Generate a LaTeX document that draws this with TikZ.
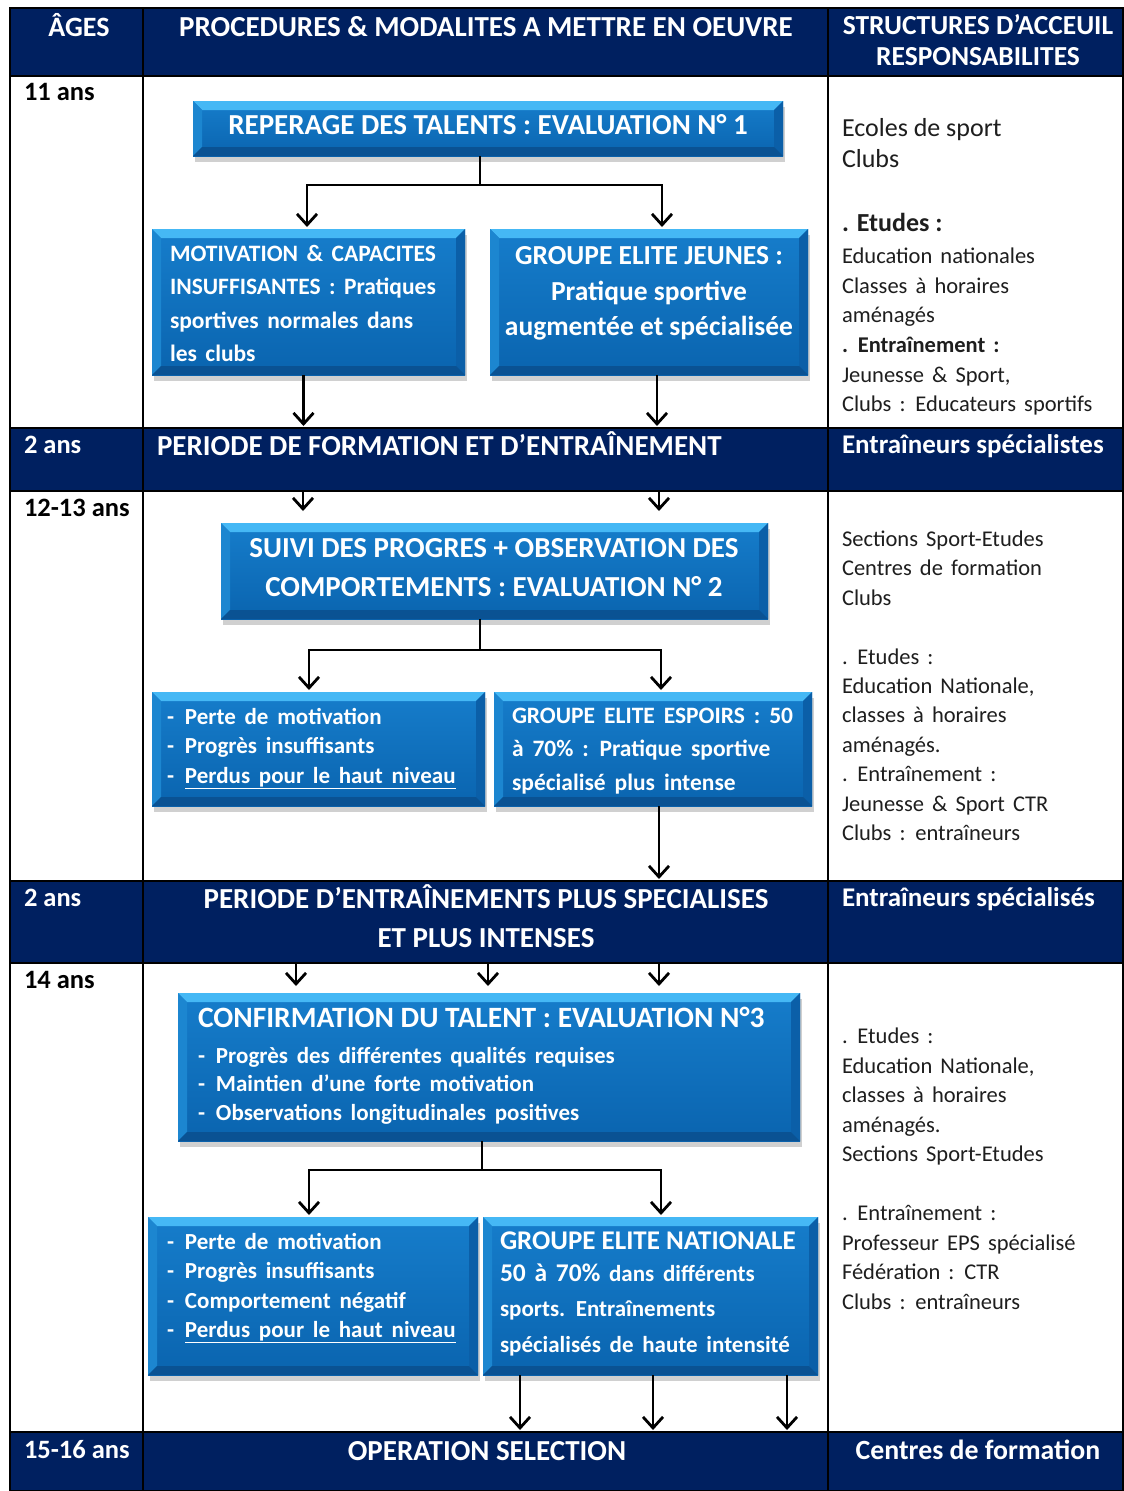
\documentclass[tikz,border=0pt]{standalone}
\usepackage{fontspec}
\setmainfont{Carlito}
\usetikzlibrary{arrows.meta,shadows}
\definecolor{navy}{HTML}{002060}
\definecolor{btop}{HTML}{45B8F5}
\definecolor{bleft}{HTML}{1C86D0}
\definecolor{bright}{HTML}{0B5FA8}
\definecolor{bbot}{HTML}{0A5293}
\definecolor{bctop}{HTML}{167DCB}
\definecolor{bcbot}{HTML}{0A64AF}
\definecolor{rtxt}{HTML}{1E1E1E}
\newcommand{\fz}[2]{\fontsize{#1}{#2}\selectfont}
\newcommand{\wsp}[1]{\spaceskip=#1em plus 0.1em\relax}
\begin{document}
\begin{tikzpicture}[x=1pt,y=-1pt,
  bandc/.style={fill=navy, draw=none, inner sep=0, outer sep=0, anchor=north west, minimum width=1114pt},
  bevel/.style={draw=none, inner sep=0, outer sep=0, anchor=north west,
    drop shadow={shadow xshift=2pt, shadow yshift=-6pt, fill=black!60, opacity=0.3},
    top color=bctop, bottom color=bcbot,
    path picture={
      \fill[btop] (path picture bounding box.north west) -- (path picture bounding box.north east)
        -- ([shift={(-9pt,-9pt)}]path picture bounding box.north east) -- ([shift={(9pt,-9pt)}]path picture bounding box.north west) -- cycle;
      \fill[bleft] (path picture bounding box.north west) -- ([shift={(9pt,-9pt)}]path picture bounding box.north west)
        -- ([shift={(9pt,9pt)}]path picture bounding box.south west) -- (path picture bounding box.south west) -- cycle;
      \fill[bright] (path picture bounding box.north east) -- ([shift={(-9pt,-9pt)}]path picture bounding box.north east)
        -- ([shift={(-9pt,9pt)}]path picture bounding box.south east) -- (path picture bounding box.south east) -- cycle;
      \fill[bbot] (path picture bounding box.south west) -- ([shift={(9pt,9pt)}]path picture bounding box.south west)
        -- ([shift={(-9pt,9pt)}]path picture bounding box.south east) -- (path picture bounding box.south east) -- cycle;
    }},
  wtxt/.style={text=white, inner sep=0, outer sep=0},
  btxt/.style={text=black, inner sep=0, outer sep=0, font=\bfseries\fz{26.5}{31}},
  rtx/.style={text=rtxt, inner sep=0, outer sep=0, align=left, anchor=north west},
  gline/.style={line width=1.8pt, black},
  trunk/.style={line width=2.8pt, black},
  conn/.style={line width=2.8pt, black, -{Straight Barb[length=11pt,width=20pt]}, shorten >=2pt}
]
\useasboundingbox (0,0) rectangle (1124,1491);
\fill[white] (0,0) rectangle (1124,1491);

% ---------- table bands ----------
\node[bandc, minimum height=68pt] (hdr) at (10,8) {};
\node[bandc, minimum height=63pt] (band1) at (10,428) {};
\node[bandc, minimum height=82pt] (band2) at (10,881) {};
\node[bandc, minimum height=59pt] (band3) at (10,1432) {};

% ---------- grid ----------
\draw[gline] (10,8) rectangle (1123,1491);
\draw[gline] (143,8) -- (143,1491);
\draw[gline] (828,8) -- (828,1491);
\foreach \yy in {76,428,491,881,963,1432} \draw[gline] (10,\yy) -- (1123,\yy);

% ---------- header ----------
\node[wtxt, font=\bfseries\fz{28}{31}, anchor=base] (hA) at (79,36.3) {ÂGES};
\node[wtxt, font=\bfseries\fz{29}{31}, anchor=base] (hP) at (486,36.3) {PROCEDURES \& MODALITES A METTRE EN OEUVRE};
\node[wtxt, font=\bfseries\fz{27.5}{31}, align=center, anchor=north] (hS) at (978,12.7) {\strut STRUCTURES D’ACCEUIL\\RESPONSABILITES};

% ---------- ages ----------
\node[btxt, anchor=base west] (a1) at (24,100) {11 ans};
\node[btxt, anchor=base west] (a2) at (24,516) {12-13 ans};
\node[btxt, anchor=base west] (a3) at (24,988) {14 ans};

% ---------- band texts ----------
\node[wtxt, font=\bfseries\fz{26.5}{31}, anchor=base west] (d1) at (24,453) {2 ans};
\node[wtxt, font=\bfseries\fz{29}{31}, anchor=base west] (p1t) at (157,455.3) {PERIODE DE FORMATION ET D’ENTRAÎNEMENT};
\node[wtxt, font=\bfseries\fz{27}{31}, anchor=base west] (e1) at (842,453.6) {Entraîneurs spécialistes};
\node[wtxt, font=\bfseries\fz{26.5}{31}, anchor=base west] (d2) at (24,906) {2 ans};
\node[wtxt, font=\bfseries\fz{29}{39}, align=center, anchor=north] (p2t) at (486,881) {\strut PERIODE D’ENTRAÎNEMENTS PLUS SPECIALISES\\ET PLUS INTENSES};
\node[wtxt, font=\bfseries\fz{27}{31}, anchor=base west] (e2) at (842,906.6) {Entraîneurs spécialisés};
\node[wtxt, font=\bfseries\fz{26.5}{31}, anchor=base west] (d3) at (24,1458) {15-16 ans};
\node[wtxt, font=\bfseries\fz{29}{31}, anchor=base] (p3t) at (487,1460.3) {OPERATION SELECTION};
\node[wtxt, font=\bfseries\fz{27.8}{31}, anchor=base] (e3) at (978,1459) {Centres de formation};

% ---------- right column ----------
\node[rtx, font=\fz{26}{31}] (r1a) at (842,115.1) {\strut Ecoles de sport\\Clubs};
\node[rtx, anchor=base west, font=\bfseries\fz{26}{31}] (r1b) at (842,231.8) {. Etudes :};
\node[rtx, font=\fz{22.5}{29.6}\wsp{0.36}] (r1c) at (842,242.9) {\strut Education nationales\\Classes à horaires\\aménagés\\\textbf{. Entraînement :}\\Jeunesse \& Sport,\\Clubs : Educateurs sportifs};
\node[rtx, font=\fz{22.5}{29.4}\wsp{0.36}] (r2) at (842,526) {\strut Sections Sport-Etudes\\Centres de formation\\Clubs\\[29.4pt]. Etudes :\\Education Nationale,\\classes à horaires\\aménagés.\\. Entraînement :\\Jeunesse \& Sport CTR\\Clubs : entraîneurs};
\node[rtx, font=\fz{22.5}{29.5}\wsp{0.36}] (r3) at (842,1023) {\strut . Etudes :\\Education Nationale,\\classes à horaires\\aménagés.\\Sections Sport-Etudes\\[29.5pt]. Entraînement :\\Professeur EPS spécialisé\\Fédération : CTR\\Clubs : entraîneurs};

% ---------- boxes ----------
\node[bevel, minimum width=590pt, minimum height=55pt] (b1) at (193,101) {};
\node[bevel, minimum width=313pt, minimum height=146pt] (b2) at (152,229) {};
\node[bevel, minimum width=318pt, minimum height=146pt] (b3) at (490,229) {};
\node[bevel, minimum width=547pt, minimum height=96pt] (b4) at (221,523) {};
\node[bevel, minimum width=333pt, minimum height=114pt] (b5) at (152,692) {};
\node[bevel, minimum width=318pt, minimum height=114pt] (b6) at (494,692) {};
\node[bevel, minimum width=622pt, minimum height=148pt] (b7) at (178,993) {};
\node[bevel, minimum width=330pt, minimum height=158pt] (b8) at (148,1217) {};
\node[bevel, minimum width=335pt, minimum height=158pt] (b9) at (483,1217) {};

% ---------- box texts ----------
\node[wtxt, font=\bfseries\fz{29}{31}, anchor=base] (t1) at (488,134.3) {REPERAGE DES TALENTS : EVALUATION N° 1};
\node[wtxt, font=\bfseries\fz{23.5}{33.3}\wsp{0.36}, align=left, anchor=north west] (t2) at (170,238.2) {\strut MOTIVATION \& CAPACITES\\INSUFFISANTES : Pratiques\\sportives normales dans\\les clubs};
\node[wtxt, font=\bfseries\fz{27.5}{35.5}, align=center, anchor=north] (t3) at (649,240) {\strut GROUPE ELITE JEUNES :\\Pratique sportive\\augmentée et spécialisée};
\node[wtxt, font=\bfseries\fz{29}{39}, align=center, anchor=north] (t4) at (494,530) {\strut SUIVI DES PROGRES + OBSERVATION DES\\COMPORTEMENTS : EVALUATION N° 2};
\node[wtxt, font=\bfseries\fz{23}{29.5}\wsp{0.38}, align=left, anchor=north west] (t5) at (167,703.7) {\strut\makebox[18pt][l]{-}Perte de motivation\\\makebox[18pt][l]{-}Progrès insuffisants\\\makebox[18pt][l]{-}\underline{Perdus pour le haut niveau}};
\node[wtxt, font=\bfseries\fz{23.5}{33.5}\wsp{0.38}, align=left, anchor=north west] (t6) at (512,700) {\strut GROUPE ELITE ESPOIRS : 50\\à 70\% : Pratique sportive\\spécialisé plus intense};
\node[wtxt, font=\bfseries\fz{29.5}{31}, anchor=base west] (t7a) at (198,1027.4) {CONFIRMATION DU TALENT : EVALUATION N°3};
\node[wtxt, font=\bfseries\fz{23}{28.5}\wsp{0.38}, align=left, anchor=north west] (t7b) at (198,1043.5) {\strut\makebox[18pt][l]{-}Progrès des différentes qualités requises\\\makebox[18pt][l]{-}Maintien d’une forte motivation\\\makebox[18pt][l]{-}Observations longitudinales positives};
\node[wtxt, font=\bfseries\fz{23}{29.3}\wsp{0.38}, align=left, anchor=north west] (t8) at (167,1228.9) {\strut\makebox[18pt][l]{-}Perte de motivation\\\makebox[18pt][l]{-}Progrès insuffisants\\\makebox[18pt][l]{-}Comportement négatif\\\makebox[18pt][l]{-}\underline{Perdus pour le haut niveau}};
\node[wtxt, font=\bfseries\fz{27}{31}, anchor=base west] (t9a) at (500,1249.6) {GROUPE ELITE NATIONALE};
\node[wtxt, font=\bfseries\fz{23}{35.5}\wsp{0.38}, align=left, anchor=north west] (t9b) at (500,1256.5) {\strut{\fz{25.5}{35.5}50 à 70\%} dans différents\\sports. Entraînements\\spécialisés de haute intensité};

% ---------- connectors ----------
\coordinate (j1) at (480,185);
\coordinate (j2) at (480,650);
\coordinate (j3) at (482,1170);
\draw[trunk] (b1.south -| j1) -- (j1);
\draw[conn] (j1) -| ([xshift=-1.5pt]b2.north);
\draw[conn] (j1) -| ([xshift=13pt]b3.north);
\draw[conn] ([xshift=-5pt]b2.south) -- ([xshift=-5pt]b2.south |- band1.north);
\draw[conn] ([xshift=8pt]b3.south) -- ([xshift=8pt]b3.south |- band1.north);

\coordinate (cL) at (303,0);
\coordinate (cR) at (659,0);
\draw[conn] (band1.south -| cL) -- ([yshift=10pt]b4.north -| cL);
\draw[conn] (band1.south -| cR) -- ([yshift=10pt]b4.north -| cR);
\draw[trunk] (b4.south -| j2) -- (j2);
\draw[conn] (j2) -| ([xshift=-9.5pt]b5.north);
\draw[conn] (j2) -| ([xshift=8pt]b6.north);
\draw[conn] ([xshift=6pt]b6.south) -- ([xshift=6pt]b6.south |- band2.north);

\coordinate (c1) at (296,0);
\coordinate (c2) at (488,0);
\coordinate (c3) at (659,0);
\draw[conn] (band2.south -| c1) -- ([yshift=5pt]b7.north -| c1);
\draw[conn] (band2.south -| c2) -- ([yshift=5pt]b7.north -| c2);
\draw[conn] (band2.south -| c3) -- ([yshift=5pt]b7.north -| c3);
\draw[trunk] (b7.south -| j3) -- (j3);
\draw[conn] (j3) -| ([xshift=-4pt]b8.north);
\draw[conn] (j3) -| ([xshift=10.5pt]b9.north);

\coordinate (s1) at (520,0);
\coordinate (s2) at (653,0);
\coordinate (s3) at (787,0);
\draw[conn] (b9.south -| s1) -- (band3.north -| s1);
\draw[conn] (b9.south -| s2) -- (band3.north -| s2);
\draw[conn] (b9.south -| s3) -- (band3.north -| s3);
\end{tikzpicture}
\end{document}
